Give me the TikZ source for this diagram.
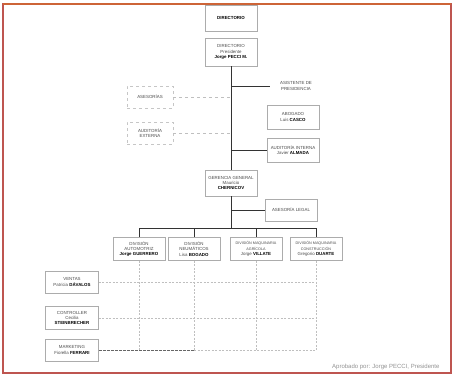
\documentclass[tikz,border=0pt]{standalone}
\usepackage{fontspec}
\setmainfont{Liberation Sans}
\usetikzlibrary{positioning,calc}
\definecolor{framecol}{RGB}{190,85,80}
\definecolor{frametop}{RGB}{205,100,55}
\tikzstyle{box} = [rectangle, draw=gray!65, line width=0.55pt, minimum width=52pt, minimum height=22pt, inner sep=1pt, align=center, font=\fontsize{4.4}{5.2}\selectfont, text=black!70]
\tikzstyle{dbox} = [box, dashed, draw=gray!45]
\tikzstyle{line} = [draw, black!80, line width=0.6pt]
\tikzstyle{dline} = [draw, gray!50, dashed, line width=0.4pt]
\tikzstyle{mline} = [draw, gray!50, dash pattern=on 2pt off 1.5pt, line width=0.4pt]
\newcommand{\nm}[1]{\textbf{\color{black}#1}}
\newcommand{\sm}{\fontsize{3.7}{4.6}\selectfont}

\begin{document}
\begin{tikzpicture}[x=1pt, y=1pt, node distance=30pt]

\useasboundingbox (0,0) rectangle (454,-375);
\fill[white] (0,0) rectangle (454,-375);
\draw[framecol, line width=1.4pt] (3,-4) rectangle (451,-373);
\draw[frametop, line width=1.4pt] (3,-4) -- (451,-4);

\node (node0) [box, minimum height=26pt] at (231,-18) {\nm{DIRECTORIO}};

\node (node1) [box, minimum height=28pt, below of=node0, node distance=34pt] {DIRECTORIO \\ Presidente \\ \nm{Jorge PECCI M.}};

\node (node11) [box, draw=none, below of=node1, node distance=34pt, xshift=65pt] {ASISTENTE DE \\ PRESIDENCIA};
\path [line] (node1 |- node11) -- (node11);

\node (node12) [dbox, minimum width=46pt, below of=node1, node distance=45pt, xshift=-81pt] {ASESORÍAS};
\path [dline] (node12) -- (node1 |- node12);

\node (node13) [dbox, minimum width=46pt, below of=node12, node distance=36pt] {AUDITORÍA \\ EXTERNA};
\path [dline] (node13) -- (node1 |- node13);

\node (node14) [box, minimum height=24pt, below of=node11, node distance=31pt, xshift=-3pt] {ABOGADO \\ Luis \nm{CASCO}};

\node (node15) [box, minimum height=24pt, below of=node14, node distance=33pt] {AUDITORÍA INTERNA \\ Javier \nm{ALMADA}};
\path [line] (node1 |- node15) -- (node15);

\node (node2) [box, minimum height=26pt, below of=node1, node distance=131pt] {GERENCIA GENERAL \\ Mauricio \\ \nm{CHERNICOV}};
\path [line] (node1) -- (node2);

\node (node21) [box, below of=node2, node distance=27pt, xshift=60pt] {ASESORÍA LEGAL};
\path [line] (node2 |- node21) -- (node21);

\coordinate [below of=node2, node distance=45pt] (bus);

\node (node22) [box, minimum height=23pt, below of=node2, node distance=66pt, xshift=-92pt] {DIVISIÓN \\ AUTOMOTRIZ \\ \nm{Jorge GUERRERO}};
\node (node23) [box, minimum height=23pt, right of=node22, node distance=55pt] {DIVISIÓN \\ NEUMÁTICOS \\ Lisa \nm{BOGADO}};
\node (node24) [box, minimum height=23pt, right of=node23, node distance=62pt] {{\sm DIVISIÓN MAQUINARIA} \\ {\sm AGRÍCOLA} \\ Jorge \nm{VILLATE}};
\node (node25) [box, minimum height=23pt, right of=node24, node distance=60pt] {{\sm DIVISIÓN MAQUINARIA} \\ {\sm CONSTRUCCIÓN} \\ Gregorio \nm{DUARTE}};

\path [line] (node2) -- (bus);
\path [line] (node22 |- bus) -- (node25 |- bus);
\foreach \d in {node22,node23,node24,node25}
  \path [line] (\d |- bus) -- (\d);

\node (node31) [box, minimum width=53pt, below of=node22, node distance=33pt, xshift=-67pt] {VENTAS \\ Patricia \nm{DÁVALOS}};
\node (node32) [box, minimum width=53pt, minimum height=23pt, below of=node31, node distance=36pt] {CONTROLLER \\ Cecilia \\ \nm{STEINBRECHER}};
\node (node33) [box, minimum width=53pt, below of=node32, node distance=32pt] {MARKETING \\ Fiorella \nm{FERRARI}};

\foreach \d in {node22,node23,node24,node25}
  \path [mline] (\d) -- (\d |- node33);
\foreach \l in {node31,node32}
  \path [mline] (\l) -- (node25 |- \l);
\path [draw, black!60, dash pattern=on 3pt off 1pt, line width=0.6pt] (node33) -- (node23 |- node33);
\path [mline] (node23 |- node33) -- (node25 |- node33);

\node (node4) [anchor=east, font=\fontsize{6}{7}\selectfont, text=gray!85] at (443,-367) {Aprobado por: Jorge PECCI, Presidente};

\end{tikzpicture}
\end{document}
